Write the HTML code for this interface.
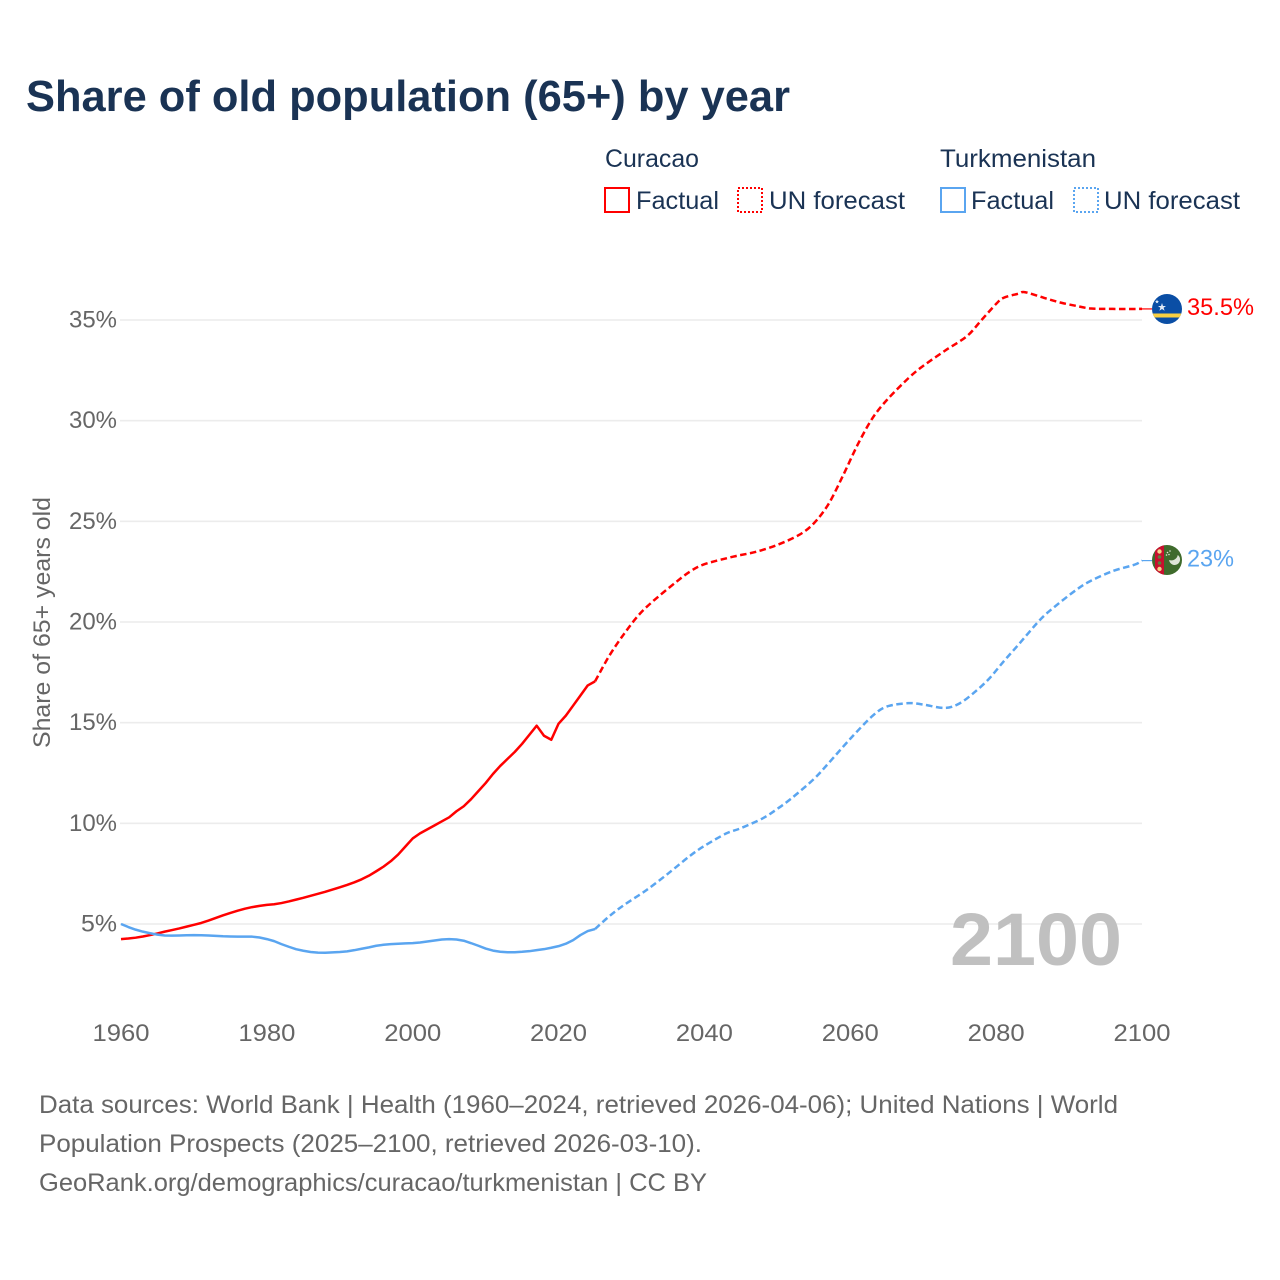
<!DOCTYPE html>
<html lang="en">
<head>
<meta charset="utf-8">
<title>Share of old population (65+) by year</title>
<style>
html,body{margin:0;padding:0;background:#fff;}
svg{display:block;font-family:"Liberation Sans",sans-serif;}
</style>
</head>
<body>
<svg id="chart" xmlns="http://www.w3.org/2000/svg" width="1280" height="1280" viewBox="0 0 1280 1280">
  <rect width="1280" height="1280" fill="#fff"/>
  <text x="26" y="111" font-size="44" font-weight="700" fill="#1a3354" textLength="764" lengthAdjust="spacingAndGlyphs">Share of old population (65+) by year</text>

  <g font-size="25" fill="#1a3354">
    <text x="605" y="167" textLength="94" lengthAdjust="spacingAndGlyphs">Curacao</text>
    <rect x="605" y="188" width="24" height="24" fill="none" stroke="#ff0000" stroke-width="2"/>
    <text x="636" y="209" textLength="83" lengthAdjust="spacingAndGlyphs">Factual</text>
    <rect x="738" y="188" width="24" height="24" fill="none" stroke="#ff0000" stroke-width="2" stroke-dasharray="2 2"/>
    <text x="769" y="209" textLength="136" lengthAdjust="spacingAndGlyphs">UN forecast</text>
    <text x="940" y="167" textLength="156" lengthAdjust="spacingAndGlyphs">Turkmenistan</text>
    <rect x="941" y="188" width="24" height="24" fill="none" stroke="#5aa5f0" stroke-width="2"/>
    <text x="971" y="209" textLength="83" lengthAdjust="spacingAndGlyphs">Factual</text>
    <rect x="1074" y="188" width="24" height="24" fill="none" stroke="#5aa5f0" stroke-width="2" stroke-dasharray="2 2"/>
    <text x="1104" y="209" textLength="136" lengthAdjust="spacingAndGlyphs">UN forecast</text>
  </g>

  <g id="grid"></g>
  <g id="yticks"></g>
  <g id="xticks"></g>
  <text transform="translate(50,748) rotate(-90)" font-size="24" fill="#666" textLength="251" lengthAdjust="spacingAndGlyphs">Share of 65+ years old</text>
  <text x="950" y="965" font-size="74" font-weight="700" fill="#c0c0c0" textLength="172" lengthAdjust="spacingAndGlyphs">2100</text>
  <g id="series"></g>

  <g>
    <clipPath id="clipA"><circle cx="1167" cy="309" r="15"/></clipPath>
    <g clip-path="url(#clipA)">
      <rect x="1152" y="294" width="30" height="30" fill="#0a4ea5"/>
      <rect x="1152" y="313.5" width="30" height="4" fill="#f9d042"/>
      <polygon points="1162,303 1163,306 1166,306 1163.6,307.8 1164.6,310.8 1162,309 1159.4,310.8 1160.4,307.8 1158,306 1161,306" fill="#dfe9f6"/>
      <polygon points="1157,299.5 1157.6,301 1159,301 1157.9,302 1158.3,303.4 1157,302.6 1155.7,303.4 1156.1,302 1155,301 1156.4,301" fill="#dfe9f6"/>
    </g>
  </g>
  <g>
    <clipPath id="clipB"><circle cx="1167" cy="560" r="15"/></clipPath>
    <g clip-path="url(#clipB)">
      <rect x="1152" y="545" width="30" height="30" fill="#3f6b2c"/>
      <rect x="1155" y="545" width="9" height="30" fill="#c8102e"/>
      <circle cx="1159.5" cy="551.5" r="2.2" fill="#f3d58a"/>
      <circle cx="1159.5" cy="557" r="1.8" fill="#5f7f3c"/>
      <circle cx="1159.5" cy="563" r="1.8" fill="#5f7f3c"/>
      <circle cx="1159.5" cy="569" r="2.2" fill="#f3d58a"/>
      <path d="M1174 550.5 a5.5 5.5 0 1 1 0 10 a6.5 6.5 0 0 0 0 -10z" fill="#dfe6d8" transform="rotate(60 1172 556)"/>
      <circle cx="1170" cy="551" r="0.8" fill="#dfe6d8"/>
      <circle cx="1167.5" cy="552.5" r="0.8" fill="#dfe6d8"/>
      <circle cx="1166.5" cy="555" r="0.8" fill="#dfe6d8"/>
      <circle cx="1169" cy="554.5" r="0.8" fill="#dfe6d8"/>
    </g>
  </g>
  <g id="endlabels"></g>

  <g font-size="25" fill="#666">
    <text x="39" y="1113" textLength="1079" lengthAdjust="spacingAndGlyphs">Data sources: World Bank | Health (1960–2024, retrieved 2026-04-06); United Nations | World</text>
    <text x="39" y="1152" textLength="663" lengthAdjust="spacingAndGlyphs">Population Prospects (2025–2100, retrieved 2026-03-10).</text>
    <text x="39" y="1191" textLength="668" lengthAdjust="spacingAndGlyphs">GeoRank.org/demographics/curacao/turkmenistan | CC BY</text>
  </g>
</svg>
<script>
const xTickYears = [1960, 1980, 2000, 2020, 2040, 2060, 2080, 2100];
const yTickValues = [5, 10, 15, 20, 25, 30, 35];

const factualStartYear = 1960;
const curacaoFactual = [4.25,4.28,4.32,4.38,4.45,4.53,4.62,4.7,4.78,4.87,
  4.96,5.05,5.17,5.3,5.43,5.55,5.66,5.76,5.84,5.9,
  5.95,5.98,6.04,6.12,6.21,6.3,6.4,6.5,6.6,6.71,
  6.82,6.94,7.07,7.22,7.4,7.62,7.85,8.12,8.45,8.85,
  9.25,9.5,9.7,9.9,10.1,10.3,10.6,10.85,11.2,11.6,
  12.0,12.45,12.85,13.2,13.55,13.95,14.4,14.85,14.35,14.15,
  14.95,15.35,15.85,16.35,16.85,17.05];
const turkmenistanFactual = [5.0,4.85,4.72,4.62,4.54,4.47,4.43,4.42,4.43,4.44,
  4.45,4.44,4.43,4.41,4.39,4.38,4.37,4.37,4.37,4.33,
  4.25,4.15,4.0,3.87,3.75,3.67,3.61,3.58,3.57,3.59,
  3.61,3.64,3.7,3.77,3.84,3.92,3.97,4.0,4.02,4.04,
  4.05,4.08,4.13,4.18,4.23,4.25,4.23,4.17,4.05,3.92,
  3.78,3.68,3.62,3.6,3.6,3.62,3.65,3.7,3.75,3.82,
  3.9,4.02,4.2,4.45,4.65,4.75];

const curacaoForecastYears = [2025,2027,2029,2031,2033,2036,2038,2040,2044,2047,2050,2053,2055,2057,2059,2061,2063,2065,2068,2070,2073,2076,2078,2080,2081,2083,2084,2087,2089,2091,2093,2096,2100];
const curacaoForecast = [17.05,18.35,19.42,20.35,21.05,21.95,22.5,22.87,23.25,23.48,23.83,24.33,24.9,25.85,27.27,28.8,30.1,31.02,32.12,32.72,33.48,34.2,35.0,35.8,36.1,36.3,36.38,36.05,35.85,35.7,35.57,35.55,35.55];
const turkmenistanForecastYears = [2025,2027,2029,2032,2035,2038,2040,2043,2045,2048,2050,2052,2055,2057,2060,2063,2065,2068,2070,2073,2075,2077,2079,2081,2083,2086,2088,2091,2093,2096,2099,2100];
const turkmenistanForecast = [4.75,5.4,5.95,6.67,7.5,8.38,8.88,9.5,9.76,10.25,10.72,11.26,12.2,12.98,14.2,15.32,15.8,15.97,15.9,15.73,15.96,16.5,17.17,18.03,18.85,20.1,20.75,21.6,22.05,22.53,22.85,23.05];

const endLabelCuracao = "35.5%";
const endLabelTurkmenistan = "23%";

const NS = "http://www.w3.org/2000/svg";
function xScale(year) { return 121 + (year - 1960) * (1142 - 121) / 140; }
function yScale(v) { return 924 - (v - 5) * (924 - 320) / 30; }
function yearsFrom(start, arr) { return arr.map(function (_, i) { return start + i; }); }

function linePath(years, vals) {
  return years.map(function (y, i) {
    return (i ? "L" : "M") + xScale(y).toFixed(2) + " " + yScale(vals[i]).toFixed(2);
  }).join("");
}
function smoothPath(years, vals) {
  const p = years.map(function (y, i) { return [xScale(y), yScale(vals[i])]; });
  let d = "M" + p[0][0].toFixed(2) + " " + p[0][1].toFixed(2);
  const k = 0.16;
  for (let i = 0; i < p.length - 1; i++) {
    const p0 = p[Math.max(i - 1, 0)], p1 = p[i], p2 = p[i + 1], p3 = p[Math.min(i + 2, p.length - 1)];
    const c1x = p1[0] + (p2[0] - p0[0]) * k, c1y = p1[1] + (p2[1] - p0[1]) * k;
    const c2x = p2[0] - (p3[0] - p1[0]) * k, c2y = p2[1] - (p3[1] - p1[1]) * k;
    d += "C" + c1x.toFixed(2) + " " + c1y.toFixed(2) + " " + c2x.toFixed(2) + " " + c2y.toFixed(2) + " " + p2[0].toFixed(2) + " " + p2[1].toFixed(2);
  }
  return d;
}

const grid = document.getElementById("grid");
const yticks = document.getElementById("yticks");
yTickValues.forEach(function (v) {
  const line = document.createElementNS(NS, "line");
  
  
  line.setAttribute("x1", 120);
  line.setAttribute("x2", 1142);
  line.setAttribute("y1", yScale(v));
  line.setAttribute("y2", yScale(v));
  line.setAttribute("stroke", "#ececec");
  line.setAttribute("stroke-width", 1.6);
  grid.appendChild(line);
  const t = document.createElementNS(NS, "text");
  
  
  t.setAttribute("x", 117);
  t.setAttribute("y", yScale(v) + 7.5);
  t.setAttribute("text-anchor", "end");
  t.setAttribute("font-size", 24);
  t.setAttribute("fill", "#666");
  t.setAttribute("textLength", v < 10 ? 36 : 48);
  t.setAttribute("lengthAdjust", "spacingAndGlyphs");
  t.textContent = v + "%";
  yticks.appendChild(t);
});

const xticks = document.getElementById("xticks");
xTickYears.forEach(function (y) {
  const t = document.createElementNS(NS, "text");
  
  
  t.setAttribute("x", xScale(y));
  t.setAttribute("y", 1041);
  t.setAttribute("text-anchor", "middle");
  t.setAttribute("font-size", 24);
  t.setAttribute("fill", "#666");
  t.setAttribute("textLength", 57);
  t.setAttribute("lengthAdjust", "spacingAndGlyphs");
  t.textContent = y;
  xticks.appendChild(t);
});

const seriesGroup = document.getElementById("series");
function addLine(name, d, color, dash) {
  const path = document.createElementNS(NS, "path");
  
  
  path.setAttribute("d", d);
  path.setAttribute("fill", "none");
  path.setAttribute("stroke", color);
  path.setAttribute("stroke-width", 2.5);
  path.setAttribute("stroke-linejoin", "round");
  if (dash) path.setAttribute("stroke-dasharray", dash);
  seriesGroup.appendChild(path);
}
const RED = "#ff0000", BLUE = "#5aa5f0";
addLine('curacao-factual-line', linePath(yearsFrom(factualStartYear, curacaoFactual), curacaoFactual), RED, null);
addLine('curacao-forecast-line', smoothPath(curacaoForecastYears, curacaoForecast), RED, "6.5 3.5");
addLine('turkmenistan-factual-line', linePath(yearsFrom(factualStartYear, turkmenistanFactual), turkmenistanFactual), BLUE, null);
addLine('turkmenistan-forecast-line', smoothPath(turkmenistanForecastYears, turkmenistanForecast), BLUE, "6.5 3.5");

const endGroup = document.getElementById("endlabels");
function addEnd(name, value, text, color, width) {
  const t = document.createElementNS(NS, "text");
  
  
  t.setAttribute("x", 1187);
  t.setAttribute("y", yScale(value) + 6);
  t.setAttribute("font-size", 24);
  t.setAttribute("fill", color);
  t.setAttribute("textLength", width);
  t.setAttribute("lengthAdjust", "spacingAndGlyphs");
  t.textContent = text;
  endGroup.appendChild(t);
  const c = document.createElementNS(NS, "line");
  
  
  c.setAttribute("x1", 1142);
  c.setAttribute("x2", 1152);
  c.setAttribute("y1", yScale(value));
  c.setAttribute("y2", yScale(value));
  c.setAttribute("stroke", color);
  c.setAttribute("stroke-width", 1.2);
  endGroup.appendChild(c);
}
addEnd('end-label-curacao', curacaoForecast[curacaoForecast.length - 1], endLabelCuracao, RED, 67);
addEnd('end-label-turkmenistan', turkmenistanForecast[turkmenistanForecast.length - 1], endLabelTurkmenistan, BLUE, 47);
</script>
</body>
</html>
